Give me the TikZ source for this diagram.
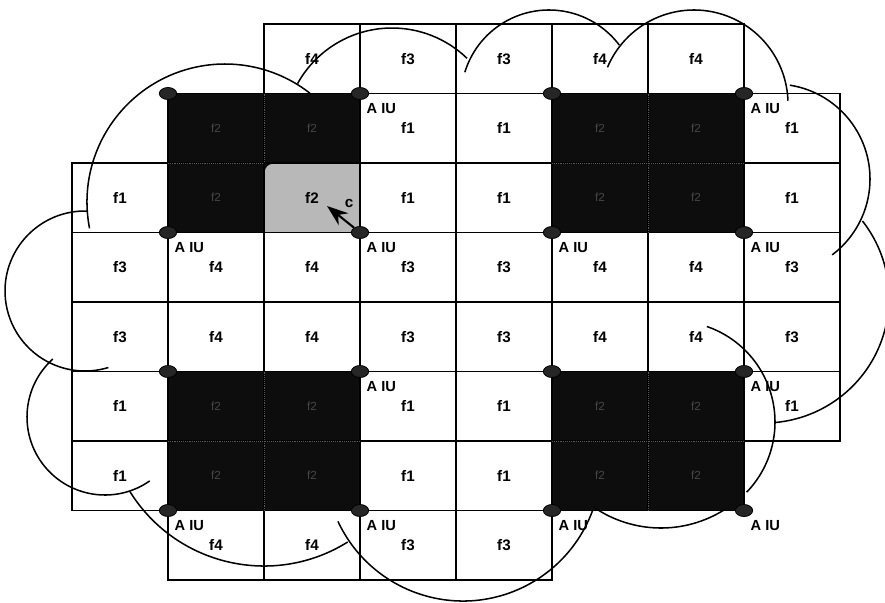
\documentclass[tikz,border=0pt]{standalone}
\usepackage{fontspec}
\setsansfont{Liberation Sans}
\usetikzlibrary{positioning,shapes.geometric,arrows.meta}

\tikzset{
  cell/.style={draw, line width=1.4pt},
  freq/.style={font=\sffamily\bfseries\fontsize{13}{15}\selectfont, inner sep=1pt},
  ghost/.style={font=\sffamily\fontsize{10}{12}\selectfont, text=black!72, inner sep=1pt},
  aiu/.style={ellipse, draw, fill=black!85, minimum width=0.52cm, minimum height=0.36cm, inner sep=0pt, line width=0.7pt},
  aiutext/.style={font=\sffamily\bfseries\fontsize{12.5}{14}\selectfont, inner sep=0pt},
  cover/.style={line width=1.3pt},
  darkblock/.style={fill=black!95},
  faint/.style={draw=black!65, densely dotted, line width=0.6pt}
}

\begin{document}
\begin{tikzpicture}[x=0.03cm, y=-0.03cm]
\useasboundingbox (0,0) rectangle (885,602);

\begin{scope}[shift={(72,24)}, xscale=96, yscale=69.5]
  % shaded co-channel blocks
  \foreach \c/\r in {1/1,5/1,1/5,5/5}
    \fill[darkblock] (\c,\r) rectangle ++(2,2);
  \fill[black!28] (2,2) rectangle (3,3);

  % cell grid, row by row
  \foreach \r/\cs in {0/{2,...,6}, 1/{1,...,7}, 2/{0,...,7}, 3/{0,...,7},
                      4/{0,...,7}, 5/{0,...,7}, 6/{0,...,6}, 7/{1,...,4}}
    \foreach \c in \cs
      \draw[cell] (\c,\r) rectangle ++(1,1);

  \draw[faint] (2,1) -- (2,2) (1,2) -- (2,2);
  \foreach \c/\r in {5/1,1/5,5/5} {
    \draw[faint] (\c+1,\r) -- (\c+1,\r+2);
    \draw[faint] (\c,\r+1) -- (\c+2,\r+1);
  }
  \foreach \c/\r in {1/1,2/1,1/2,5/1,6/1,5/2,6/2,1/5,2/5,1/6,2/6,5/5,6/5,5/6,6/6}
    \node[ghost] (g\c\r) at (\c+0.5,\r+0.5) {f2};

  % frequency labels
  \foreach \c/\r/\t in {2/0/f4,3/0/f3,4/0/f3,5/0/f4,6/0/f4,
      3/1/f1,4/1/f1,7/1/f1,
      0/2/f1,2/2/f2,3/2/f1,4/2/f1,7/2/f1,
      0/3/f3,1/3/f4,2/3/f4,3/3/f3,4/3/f3,5/3/f4,6/3/f4,7/3/f3,
      0/4/f3,1/4/f4,2/4/f4,3/4/f3,4/4/f3,5/4/f4,6/4/f4,7/4/f3,
      0/5/f1,3/5/f1,4/5/f1,7/5/f1,
      0/6/f1,3/6/f1,4/6/f1,
      1/7/f4,2/7/f4,3/7/f3,4/7/f3}
    \node[freq] (l\c\r) at (\c+0.5,\r+0.5) {\t};

  % access units at block corners
  \foreach \c/\r in {1/1,3/1,1/3,3/3,5/1,7/1,5/3,7/3,1/5,3/5,1/7,3/7,5/5,7/5,5/7,7/7}
    \node[aiu] (a\c\r) at (\c,\r) {};
\end{scope}

\filldraw[line width=1.2pt, fill=black!95] (264,163) -- (273,163) arc[start angle=270, end angle=180, radius=9] -- cycle;

\foreach \n in {31,71,13,33,53,73,35,75,17,37,57,77}
  \node[aiutext, below right=8.5pt and 5.5pt of a\n.center] (t\n) {A IU};

\coordinate (ctip) at (327,206);
\draw[-{Stealth[length=18pt,width=13pt]}, line width=1.8pt] (a33) -- (ctip);
\node[freq] (clab) at (349,203) {c};

% coverage arcs
\foreach \cx/\cy/\rr/\sa/\ea in {225/202/138/169/308, 85/291/80/272/73,
    105/417/78/228/55, 264/408/158/148/58, 463/463/138/155/20,
    661/409/119/124/58, 674/422/101/-71/44, 764/298/125/-38/85,
    775/179/95/-81/53, 694/104/94/203/358, 549/98/88/197/323,
    392/136/108/209/314}
  \draw[cover] (\cx,\cy) ++(\sa:\rr) arc[start angle=\sa, end angle=\ea, radius=\rr];
\end{tikzpicture}
\end{document}
